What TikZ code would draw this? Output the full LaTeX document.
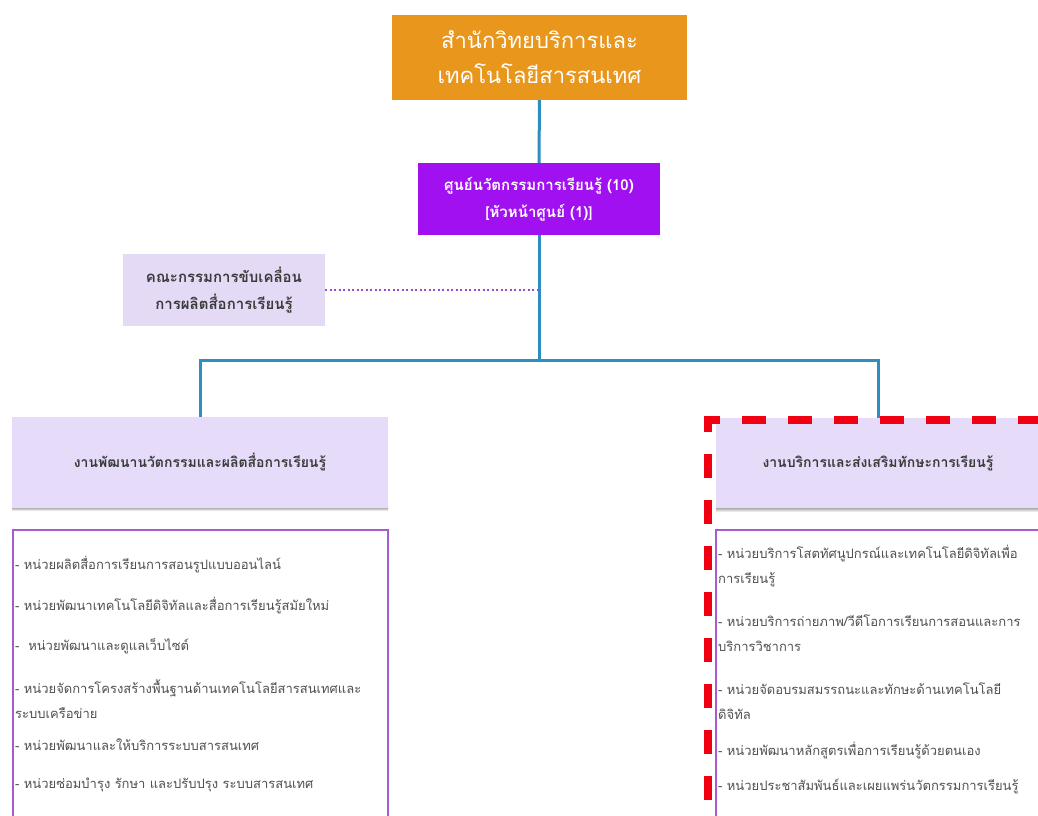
\documentclass[tikz,border=0pt]{standalone}
\usepackage{fontspec}
\setmainfont[Script=Thai]{Loma}
\definecolor{orangebox}{HTML}{E9961C}
\definecolor{violetbox}{HTML}{A010F0}
\definecolor{lav}{HTML}{E6DCFA}
\definecolor{lavc}{HTML}{E4DAF6}
\definecolor{shade}{HTML}{BDB5CC}
\definecolor{linkblue}{HTML}{2E8EC2}
\definecolor{listframe}{HTML}{A55CD2}
\definecolor{dotpurple}{HTML}{9A4ACB}
\definecolor{txtdark}{HTML}{3A3A3A}
\definecolor{txtlist}{HTML}{505050}
\definecolor{reddash}{HTML}{F00010}
\tikzset{
  box/.style={rectangle, inner sep=0pt, align=center},
  topbox/.style={box, fill=orangebox, text=white, font=\fontsize{22}{35}\selectfont},
  centerbox/.style={box, fill=violetbox, text=white, font=\bfseries\fontsize{15}{27}\selectfont},
  commbox/.style={box, fill=lavc, text=txtdark, font=\bfseries\fontsize{15}{27}\selectfont},
  headbox/.style={box, fill=lav, text=txtdark, font=\bfseries\fontsize{14}{20}\selectfont},
  listbox/.style={rectangle, draw=listframe, line width=2pt, fill=white, inner sep=0pt},
  item/.style={anchor=west, inner sep=0pt, align=left, text=txtlist, font=\fontsize{13}{25}\selectfont},
  link/.style={draw=linkblue, line width=3pt},
  dotlink/.style={draw=dotpurple, line width=1.5pt, dash pattern=on 2pt off 2.5pt},
  redframe/.style={draw=reddash, line width=7.5pt, dash pattern=on 24pt off 22pt, dash phase=16pt},
}
\begin{document}
\begin{tikzpicture}[x=1pt,y=-1pt]
\useasboundingbox (0,0) rectangle (1038,815);
\clip (0,0) rectangle (1038,815);
\fill[white] (0,0) rectangle (1038,815);
% boxes
\node[topbox, minimum width=295pt, minimum height=85pt] (office) at (539.5,57.5) {สำนักวิทยบริการและ\\เทคโนโลยีสารสนเทศ};
\node[centerbox, minimum width=242pt, minimum height=72pt] (center) at (539,199) {ศูนย์นวัตกรรมการเรียนรู้ (10)\\{[}หัวหน้าศูนย์ (1){]}};
\node[commbox, minimum width=202pt, minimum height=72pt] (comm) at (224,290) {คณะกรรมการขับเคลื่อน\\การผลิตสื่อการเรียนรู้};
\coordinate (j) at (539,360);
% connectors
\draw[link] (office) -- (center);
\draw[link] (center.south) -- (j);
\draw[dotlink] (comm.east) -- (comm.east -| j);
\fill[shade] (12,506) rectangle (388,511);
\fill[shade] (716,506) rectangle (1040,512);
\node[headbox, minimum width=376pt, minimum height=91pt] (lh) at (200,462.5) {งานพัฒนานวัตกรรมและผลิตสื่อการเรียนรู้};
\node[headbox, minimum width=324pt, minimum height=90pt] (rh) at (878,463) {งานบริการและส่งเสริมทักษะการเรียนรู้};
\draw[link] (lh.north) |- (j) -| (rh.north);
% list boxes
\node[listbox, minimum width=375pt, minimum height=300pt] (lbox) at (200.5,680) {};
\node[listbox, minimum width=330pt, minimum height=300pt] (rbox) at (881,680) {};
% left items
\node[item] (l1) at (15,564) {- หน่วยผลิตสื่อการเรียนการสอนรูปแบบออนไลน์};
\node[item] (l2) at (15,605) {- หน่วยพัฒนาเทคโนโลยีดิจิทัลและสื่อการเรียนรู้สมัยใหม่};
\node[item] (l3) at (15,646) {-~~หน่วยพัฒนาและดูแลเว็บไซต์};
\node[item] (l4) at (15,699.5) {- หน่วยจัดการโครงสร้างพื้นฐานด้านเทคโนโลยีสารสนเทศและ\\ระบบเครือข่าย};
\node[item] (l5) at (15,745) {- หน่วยพัฒนาและให้บริการระบบสารสนเทศ};
\node[item] (l6) at (15,785) {- หน่วยซ่อมบำรุง รักษา และปรับปรุง ระบบสารสนเทศ};
% right items
\node[item] (r1) at (718,565.5) {- หน่วยบริการโสตทัศนูปกรณ์และเทคโนโลยีดิจิทัลเพื่อ\\การเรียนรู้};
\node[item] (r2) at (718,633.5) {- หน่วยบริการถ่ายภาพ/วีดีโอการเรียนการสอนและการ\\บริการวิชาการ};
\node[item] (r3) at (718,701.5) {- หน่วยจัดอบรมสมรรถนะและทักษะด้านเทคโนโลยี\\ดิจิทัล};
\node[item] (r4) at (718,750) {- หน่วยพัฒนาหลักสูตรเพื่อการเรียนรู้ด้วยตนเอง};
\node[item] (r5) at (718,786) {- หน่วยประชาสัมพันธ์และเผยแพร่นวัตกรรมการเรียนรู้};
% red dashed frame
\draw[redframe] (708,830) -- (708,420) -- (1050,420);
\end{tikzpicture}
\end{document}
